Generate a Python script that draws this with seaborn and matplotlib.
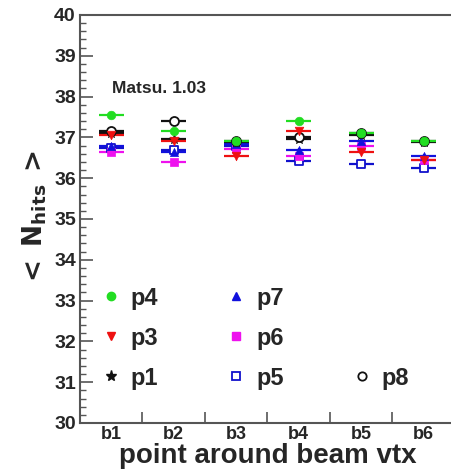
import numpy as np
import pandas as pd
import matplotlib
matplotlib.use("Agg")
import matplotlib.pyplot as plt
from matplotlib.lines import Line2D
from matplotlib.ticker import MultipleLocator, FixedLocator
import seaborn as sns

categories = ["b1", "b2", "b3", "b4", "b5", "b6"]
p4 = [37.55, 37.15, 36.90, 37.40, 37.10, 36.90]
p3 = [37.05, 36.90, 36.55, 37.15, 36.65, 36.45]
p1 = [37.10, 36.95, 36.88, 36.95, 37.05, 36.88]
p7 = [36.80, 36.65, 36.85, 36.70, 36.90, 36.55]
p6 = [36.65, 36.40, 36.72, 36.55, 36.80, 36.45]
p5 = [36.75, 36.70, 36.78, 36.42, 36.35, 36.25]
p8 = [37.15, 37.40, 36.90, 37.00, 37.10, 36.90]
y_err = 0.05
x_half = 0.2

series = {"p4": p4, "p3": p3, "p1": p1, "p7": p7, "p6": p6, "p5": p5, "p8": p8}
styles = {
    "p4": dict(marker="o", color="#22dd22", filled=True, s=38),
    "p3": dict(marker="v", color="#ee1111", filled=True, s=38),
    "p1": dict(marker="*", color="#111111", filled=True, s=55),
    "p7": dict(marker="^", color="#1111dd", filled=True, s=34),
    "p6": dict(marker="s", color="#ee11ee", filled=True, s=32),
    "p5": dict(marker="s", color="#1111cc", filled=False, s=38),
    "p8": dict(marker="o", color="#111111", filled=False, s=42),
}
draw_order = ["p5", "p6", "p7", "p1", "p8", "p3", "p4"]

sns.set_theme(style="ticks")
plt.rcParams["font.family"] = ["Liberation Sans", "DejaVu Sans"]
plt.rcParams["font.weight"] = "bold"

fig = plt.figure(figsize=(4.52, 4.73), dpi=100)
W, H = 452, 473
ax = fig.add_axes([80 / W, 1 - 423 / H, 375 / W, 408 / H])

xpos = np.arange(len(categories))
for name in draw_order:
    st = styles[name]
    vals = series[name]
    ax.errorbar(xpos, vals, xerr=x_half, yerr=y_err, fmt="none",
                ecolor=st["color"], elinewidth=1.6, capsize=0, zorder=2)
    df = pd.DataFrame({"x": xpos, "y": vals})
    if st["filled"]:
        sns.scatterplot(data=df, x="x", y="y", marker=st["marker"], color=st["color"],
                        s=st["s"], edgecolor=st["color"], linewidth=0.5, ax=ax, zorder=3)
    else:
        sns.scatterplot(data=df, x="x", y="y", marker=st["marker"], facecolor="white",
                        edgecolor=st["color"], s=st["s"], linewidth=1.3, ax=ax, zorder=3)

ax.set_xlim(-0.5, len(categories) - 0.5)
ax.set_ylim(30, 40)
ax.set_xticks(xpos)
ax.set_xticklabels(categories, fontsize=13, fontweight="bold")
ax.xaxis.set_minor_locator(FixedLocator(np.arange(0.5, len(categories) - 0.5, 1.0)))
ax.tick_params(axis="x", which="major", length=0, pad=2)
ax.tick_params(axis="x", which="minor", direction="in", length=8, width=1.2, color="#555555")
ax.yaxis.set_major_locator(MultipleLocator(1))
ax.yaxis.set_minor_locator(MultipleLocator(0.2))
ax.tick_params(axis="y", which="major", direction="in", length=9, width=1.2, color="#555555",
               labelsize=14, pad=3)
ax.tick_params(axis="y", which="minor", direction="in", length=4.5, width=1.0, color="#555555")
for lab in ax.get_yticklabels():
    lab.set_fontweight("bold")
for sp in ["left", "bottom", "top"]:
    ax.spines[sp].set_color("#555555")
    ax.spines[sp].set_linewidth(1.5)
ax.spines["right"].set_visible(False)

ax.set_xlabel("point around beam vtx", fontsize=20, fontweight="bold", labelpad=0)
ax.set_ylabel(r"$<$ $\mathbf{N_{hits}}$ $>$", fontsize=19, labelpad=4)

ax.text(0.085, 0.82, "Matsu. 1.03", transform=ax.transAxes, fontsize=12.5,
        fontweight="bold", ha="left", va="center")

def handle(name):
    st = styles[name]
    if st["filled"]:
        return Line2D([], [], linestyle="none", marker=st["marker"], color=st["color"],
                      markersize=6 if name != "p1" else 8)
    return Line2D([], [], linestyle="none", marker=st["marker"], markerfacecolor="white",
                  markeredgecolor=st["color"], markeredgewidth=1.3, markersize=6)

blank = Line2D([], [], linestyle="none")
order = ["p4", "p3", "p1", "p7", "p6", "p5", None, None, "p8"]
handles = [handle(n) if n else blank for n in order]
labels = [n if n else "" for n in order]
leg = ax.legend(handles, labels, ncol=3, loc="lower left", bbox_to_anchor=(-0.019, 0.03),
                frameon=False, fontsize=17, handletextpad=0.15, columnspacing=2.6,
                labelspacing=0.72, handlelength=1.4)
for t in leg.get_texts():
    t.set_fontweight("bold")

fig.savefig("out.png", dpi=100)
